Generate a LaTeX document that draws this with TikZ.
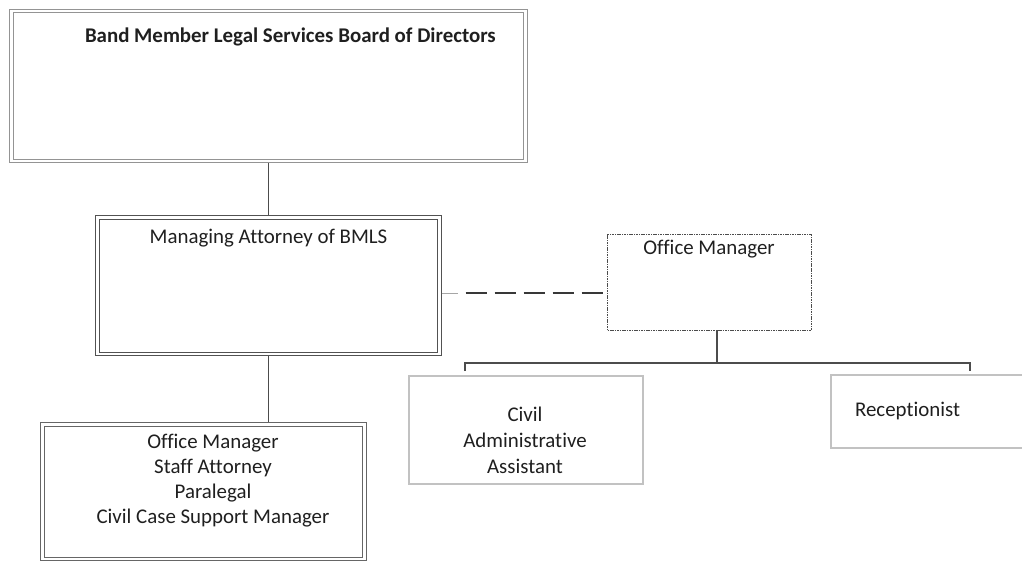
\documentclass[tikz,border=0pt]{standalone}
\usepackage{fontspec}
\setmainfont{Carlito}[Ligatures=CommonOff]

\begin{document}
\begin{tikzpicture}[x=1bp,y=-1bp,
  every node/.style={inner sep=0pt,outer sep=0pt,text=black!88},
  txt/.style={font=\fontsize{20.9bp}{25bp}\selectfont},
  dblbox/.style={draw=#1,double=white,double distance=2.6bp,line width=0.8bp,outer sep=2.1bp},
  softbox/.style={draw=black!24,line width=1.1bp},
  dotbox/.style={draw=black!70,line width=0.8bp,dash pattern=on 1.6bp off 0.8bp},
  link/.style={draw=black!70,line width=1.3bp},
  stub/.style={draw=black!35,line width=0.8bp},
  dashlink/.style={draw=black!78,line width=2.6bp,dash pattern=on 21bp off 8bp}]
\useasboundingbox (0,0) rectangle (1022,562);

\node[dblbox=black!42,minimum width=514bp,minimum height=150bp] (board) at (268.5,86) {};
\node[dblbox=black!68,minimum width=342bp,minimum height=136.5bp] (mgr) at (268.5,285.75) {};
\node[dblbox=black!60,minimum width=322bp,minimum height=134.5bp] (staff) at (203.5,491.75) {};
\node[dotbox,minimum width=203.5bp,minimum height=96bp] (om) at (709.25,282) {};
\node[softbox,minimum width=234bp,minimum height=108bp] (civil) at (526,430) {};
\node[softbox,minimum width=194bp,minimum height=73bp] (recep) at (928,411.5) {};

\node[txt,anchor=base west] (boardlbl) at (85,42.7) {\bfseries Band Member Legal Services Board of Directors};
\node[txt,anchor=base] (mgrlbl) at (268.5,243.3) {Managing Attorney of BMLS};
\node[txt,anchor=base,align=center] (stafflbl) at (213,523.3)
  {Office Manager\\Staff Attorney\\Paralegal\\Civil Case Support Manager};
\node[txt,anchor=base] (omlbl) at (709,254.3) {Office Manager};
\node[txt,anchor=base,align=center,font=\fontsize{20.9bp}{25.8bp}\selectfont] (civillbl) at (525,473.3)
  {Civil\\Administrative\\Assistant};
\node[txt,anchor=base west] (receplbl) at (855,416) {Receptionist};

\draw[link] (board.south) -- (mgr.north);
\draw[link] (mgr.south) -- (mgr.south |- staff.north);

\draw[stub] ([yshift=-7.25bp]mgr.east) coordinate (dashA) -- ++(16,0);
\draw[dashlink] ([xshift=24bp]dashA) -- (dashA -| om.west);

\coordinate (hub) at (717,363);
\coordinate (barL) at (465,371);
\coordinate (barR) at (970,371);
\draw[link] (om.south -| hub) -- (hub);
\draw[link] (barL) |- (hub) -| (barR);
\end{tikzpicture}
\end{document}
